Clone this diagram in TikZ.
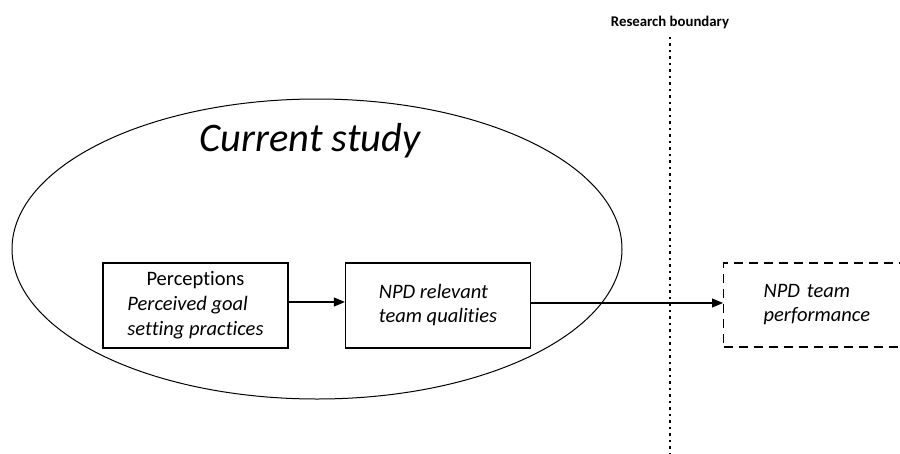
\documentclass[tikz,border=0pt]{standalone}
\usepackage{fontspec}
\setmainfont[Ligatures=NoCommon]{Carlito}
\usetikzlibrary{arrows.meta,shapes.geometric}
\begin{document}
\begin{tikzpicture}[x=1pt,y=-1pt,
  boxtxt/.style={font=\fontsize{20.5}{25}\selectfont},
  solidbox/.style={draw, line width=1.3pt, minimum width=185pt, minimum height=85pt, inner sep=0pt, boxtxt},
  conn/.style={line width=1.1pt, -{Triangle[length=11pt,width=9pt]}}]
\useasboundingbox (0,0) rectangle (900,453);
\clip (0,0) rectangle (900,453);
% ellipse
\node[draw, ellipse, line width=1pt, minimum width=610pt, minimum height=300pt, inner sep=0pt] (study) at (317,249) {};
\node[font=\fontsize{40.5}{44}\selectfont\itshape] (studylbl) at (310,141) {Current study};
% boxes
\node[solidbox] (perc) at (195.5,305.5) {\begin{tabular}{@{}l@{}}\multicolumn{1}{@{}c@{}}{Perceptions}\\ \textit{Perceived goal}\\ \textit{setting practices}\end{tabular}};
\node[solidbox, align=left, font=\fontsize{20.5}{24}\selectfont\itshape] (npd) at (438,305.5) {NPD relevant\\team qualities};
% dashed box
\node[draw, dashed, dash pattern=on 9pt off 6pt, line width=1.3pt, anchor=west, minimum height=84pt, text width=150pt, inner xsep=40pt, inner ysep=0pt, align=left, font=\fontsize{20.5}{24}\selectfont\itshape] (perf) at (723,305) {NPD team\\performance};
% boundary
\node[font=\fontsize{14.8}{17}\selectfont\bfseries] (rb) at (670,22) {Research boundary};
\coordinate (rbend) at (670,455);
\draw[line width=1.5pt, dash pattern=on 2.5pt off 4pt] (rb.south) ++(0,5) -- (rbend);
% connectors
\draw[conn] (perc.east |- 0,302) -- (npd.west |- 0,302);
\draw[conn] (npd.east |- 0,303) -- (perf.west |- 0,303);
\end{tikzpicture}
\end{document}
